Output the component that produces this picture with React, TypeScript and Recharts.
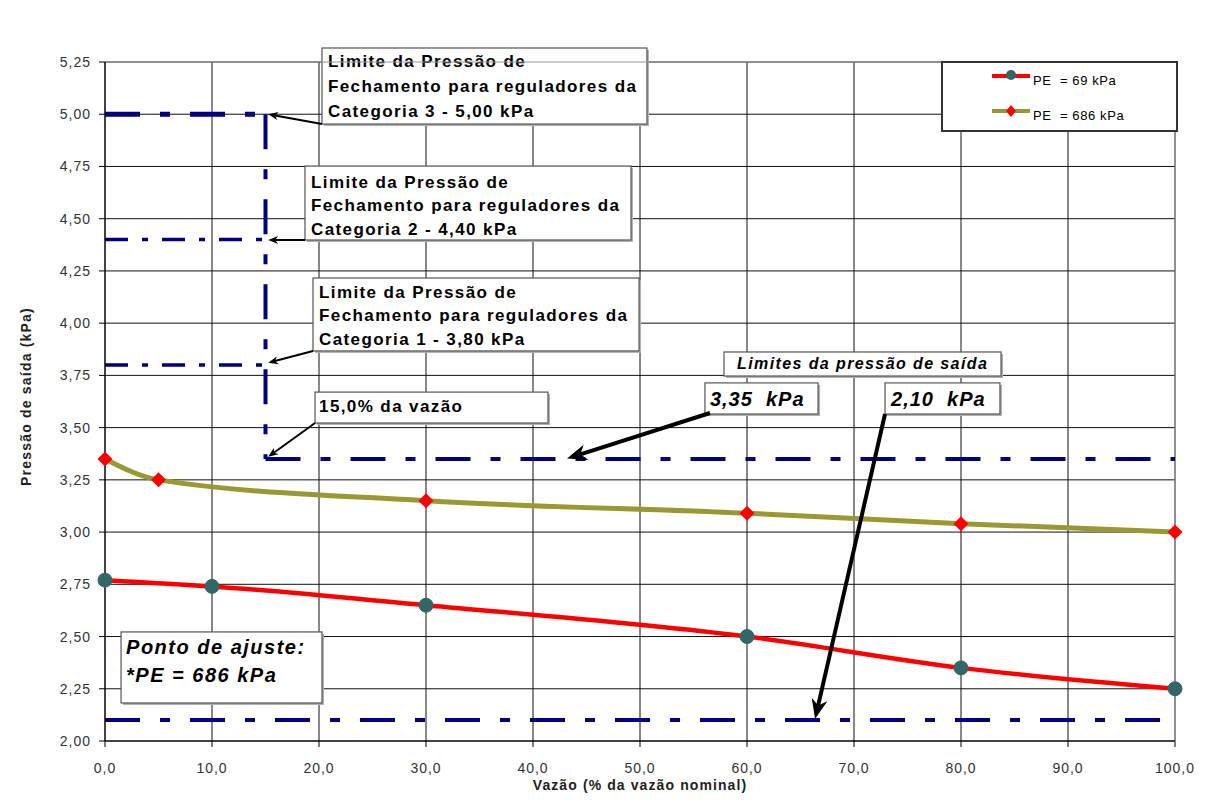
import React from 'react';
import {
  LineChart,
  Line,
  XAxis,
  YAxis,
  CartesianGrid,
  ReferenceLine,
  ReferenceArea,
  Legend,
} from 'recharts';

// eixos
const X_TICKS = [0, 10, 20, 30, 40, 50, 60, 70, 80, 90, 100];
const Y_TICKS = [2, 2.25, 2.5, 2.75, 3, 3.25, 3.5, 3.75, 4, 4.25, 4.5, 4.75, 5, 5.25];

// séries
const VAZAO_69 = [0, 10, 30, 60, 80, 100];
const PRESSAO_69 = [2.77, 2.74, 2.65, 2.5, 2.35, 2.25];
const VAZAO_686 = [0, 5, 30, 60, 80, 100];
const PRESSAO_686 = [3.35, 3.25, 3.15, 3.09, 3.04, 3.0];

// limites
const LIMITES_FECHAMENTO = [5.0, 4.4, 3.8]; // categorias 3, 2, 1
const VAZAO_MINIMA = 15;
const LIMITE_SUPERIOR = 3.35;
const LIMITE_INFERIOR = 2.1;

const FONT = '"Liberation Sans", Arial, sans-serif';
const NAVY = '#000080';

const data69 = VAZAO_69.map((x, i) => ({ x, y: PRESSAO_69[i] }));
const data686 = VAZAO_686.map((x, i) => ({ x, y: PRESSAO_686[i] }));

const fmt = (d: number) => (v: number) => v.toFixed(d).replace('.', ',');

// caixas de texto (coordenadas do gráfico)
const CAIXAS = [
  {
    x1: 20.28, x2: 50.65, y1: 4.953, y2: 5.317,
    lines: ['Limite da Pressão de', 'Fechamento para reguladores da', 'Categoria 3 - 5,00 kPa'],
    size: 17, italic: false, pad: 6, top: 13, lh: 25, spacing: 1.4,
  },
  {
    x1: 18.69, x2: 49.16, y1: 4.398, y2: 4.752,
    lines: ['Limite da Pressão de', 'Fechamento para reguladores da', 'Categoria 2 - 4,40 kPa'],
    size: 17, italic: false, pad: 6, top: 16, lh: 23.5, spacing: 1.4,
  },
  {
    x1: 19.44, x2: 49.91, y1: 3.867, y2: 4.216,
    lines: ['Limite da Pressão de', 'Fechamento para reguladores da', 'Categoria 1 - 3,80 kPa'],
    size: 17, italic: false, pad: 6, top: 14, lh: 23.5, spacing: 1.4,
  },
  {
    x1: 19.63, x2: 41.4, y1: 3.522, y2: 3.67,
    lines: ['15,0% da vazão'],
    size: 17, italic: false, pad: 4, top: 14, lh: 23, spacing: 1.4,
  },
  {
    x1: 57.85, x2: 83.74, y1: 3.747, y2: 3.862,
    lines: ['Limites da pressão de saída'],
    size: 16, italic: true, pad: 13, top: 12, lh: 20, spacing: 1.4,
  },
  {
    x1: 56.07, x2: 66.64, y1: 3.565, y2: 3.714,
    lines: ['3,35  kPa'],
    size: 20, italic: true, pad: 5, top: 16, lh: 24, spacing: 1,
  },
  {
    x1: 72.9, x2: 83.64, y1: 3.565, y2: 3.714,
    lines: ['2,10  kPa'],
    size: 20, italic: true, pad: 6, top: 16, lh: 24, spacing: 1,
  },
  {
    x1: 1.5, x2: 20.28, y1: 2.182, y2: 2.522,
    lines: ['Ponto de ajuste:', '*PE = 686 kPa'],
    size: 20, italic: true, pad: 5, top: 15, lh: 28, spacing: 1.5,
  },
];

// setas (de -> para)
const SETAS = [
  { from: { x: 20.28, y: 4.953 }, to: { x: 15.25, y: 5.0 }, w: 2, head: 10 },
  { from: { x: 18.69, y: 4.398 }, to: { x: 15.25, y: 4.398 }, w: 2, head: 10 },
  { from: { x: 19.44, y: 3.867 }, to: { x: 15.25, y: 3.81 }, w: 2, head: 10 },
  { from: { x: 19.63, y: 3.522 }, to: { x: 15.25, y: 3.36 }, w: 2, head: 10 },
  { from: { x: 56.54, y: 3.57 }, to: { x: 43.18, y: 3.352 }, w: 4, head: 20 },
  { from: { x: 72.9, y: 3.565 }, to: { x: 66.36, y: 2.105 }, w: 4, head: 20 },
];

const boxShape = (c: (typeof CAIXAS)[number]) => (p: any) => {
  const { x, y, width, height } = p;
  return (
    <g>
      <rect x={x + 2} y={y + 2} width={width} height={height} fill="#b0b0b0" />
      <rect x={x} y={y} width={width} height={height} fill="#fff" stroke="#555" strokeWidth={1.2} />
      {c.lines.map((t, i) => (
        <text
          key={i}
          x={x + c.pad}
          y={y + c.top + i * c.lh}
          dominantBaseline="central"
          fontFamily={FONT}
          fontSize={c.size}
          fontWeight="bold"
          fontStyle={c.italic ? 'italic' : 'normal'}
          letterSpacing={c.spacing}
          fill="#000"
          style={{ whiteSpace: 'pre' }}
        >
          {t}
        </text>
      ))}
    </g>
  );
};

const arrowShape = (w: number, head: number) => (p: any) => {
  const { x1, y1, x2, y2 } = p;
  const a = Math.atan2(y2 - y1, x2 - x1);
  const hw = head * 0.4;
  const bx = x2 - head * Math.cos(a);
  const by = y2 - head * Math.sin(a);
  const nx = -Math.sin(a) * hw;
  const ny = Math.cos(a) * hw;
  const ix = x2 - head * 0.7 * Math.cos(a);
  const iy = y2 - head * 0.7 * Math.sin(a);
  return (
    <g>
      <line x1={x1} y1={y1} x2={ix} y2={iy} stroke="#000" strokeWidth={w} />
      <polygon
        points={`${x2},${y2} ${bx + nx},${by + ny} ${ix},${iy} ${bx - nx},${by - ny}`}
        fill="#000"
      />
    </g>
  );
};

const Diamond = (p: any) => {
  const { cx, cy } = p;
  if (cx == null || cy == null) return <g key={p.index} />;
  const r = 7.5;
  return (
    <path
      key={p.index}
      d={`M${cx},${cy - r} L${cx + r},${cy} L${cx},${cy + r} L${cx - r},${cy} Z`}
      fill="#FF0000"
    />
  );
};

const LegendBox = () => (
  <svg width={237} height={71} style={{ display: 'block' }}>
    <rect x={1} y={1} width={235} height={69} fill="#fff" stroke="#333" strokeWidth={2} />
    <line x1={51} y1={15} x2={89} y2={15} stroke="#FF0000" strokeWidth={4} />
    <circle cx={70} cy={14} r={5} fill="#336666" />
    <text x={92} y={23.5} fontFamily={FONT} fontSize={13} letterSpacing={0.6} fill="#000" style={{ whiteSpace: 'pre' }}>
      PE  = 69 kPa
    </text>
    <line x1={51} y1={50} x2={89} y2={50} stroke="#999933" strokeWidth={4} />
    <path d="M70,44 L75,50 L70,56 L65,50 Z" fill="#FF0000" />
    <text x={92} y={58.5} fontFamily={FONT} fontSize={13} letterSpacing={0.6} fill="#000" style={{ whiteSpace: 'pre' }}>
      PE  = 686 kPa
    </text>
  </svg>
);

const XLabel = (p: any) => {
  const vb = p.viewBox;
  return (
    <text
      x={vb.x + vb.width / 2}
      y={vb.y + 49}
      textAnchor="middle"
      fontFamily={FONT}
      fontSize={14}
      fontWeight="bold"
      letterSpacing={1.1}
      fill="#222"
    >
      Vazão (% da vazão nominal)
    </text>
  );
};

const YLabel = (p: any) => {
  const vb = p.viewBox;
  const cx = 18;
  const cy = vb.y + vb.height / 2 - 5;
  return (
    <text
      x={cx}
      y={cy}
      textAnchor="middle"
      dominantBaseline="central"
      transform={`rotate(-90, ${cx}, ${cy})`}
      fontFamily={FONT}
      fontSize={14}
      fontWeight="bold"
      letterSpacing={1.2}
      fill="#222"
    >
      Pressão de saída (kPa)
    </text>
  );
};

const TICK = { fontFamily: FONT, fontSize: 14, fill: '#333', letterSpacing: 1 };

export default function App() {
  const dash1 = '35 20 10 20';
  const dash2 = '23 14 6 14';
  return (
    <div style={{ width: 1199, height: 788 }}>
      <LineChart width={1199} height={788} margin={{ top: 54, right: 32, bottom: 0, left: 0 }}>
        <CartesianGrid stroke="#111" strokeWidth={1} />
        <XAxis
          type="number"
          dataKey="x"
          domain={[0, 100]}
          ticks={X_TICKS}
          tickFormatter={fmt(1)}
          height={55}
          tickSize={6}
          tickMargin={16}
          stroke="#000"
          tick={TICK}
          label={XLabel}
        />
        <YAxis
          type="number"
          domain={[2, 5.25]}
          ticks={Y_TICKS}
          tickFormatter={fmt(2)}
          width={97}
          tickSize={6}
          tickMargin={8}
          stroke="#000"
          tick={TICK}
          label={YLabel}
          allowDataOverflow
        />
        <ReferenceLine y={5.25} stroke="#999" strokeWidth={1} />
        <ReferenceLine x={100} stroke="#999" strokeWidth={1} />

        {LIMITES_FECHAMENTO.map((v, i) => (
          <ReferenceLine
            key={`lf${i}`}
            segment={[{ x: 0, y: v }, { x: VAZAO_MINIMA, y: v }]}
            stroke={NAVY}
            strokeWidth={i === 0 ? 5 : 3.5}
            strokeDasharray={i === 0 ? dash1 : dash2}
            ifOverflow="visible"
          />
        ))}
        <ReferenceLine
          segment={[{ x: VAZAO_MINIMA, y: LIMITES_FECHAMENTO[0] }, { x: VAZAO_MINIMA, y: LIMITE_SUPERIOR }]}
          stroke={NAVY}
          strokeWidth={4}
          strokeDasharray={dash1}
          ifOverflow="visible"
        />
        <ReferenceLine
          segment={[{ x: VAZAO_MINIMA, y: LIMITE_SUPERIOR }, { x: 100, y: LIMITE_SUPERIOR }]}
          stroke={NAVY}
          strokeWidth={4}
          strokeDasharray={dash1}
          ifOverflow="visible"
        />
        <ReferenceLine
          segment={[{ x: 0, y: LIMITE_INFERIOR }, { x: 100, y: LIMITE_INFERIOR }]}
          stroke={NAVY}
          strokeWidth={4}
          strokeDasharray={dash1}
          ifOverflow="visible"
        />

        <Line
          data={data69}
          dataKey="y"
          name="PE = 69 kPa"
          type="monotone"
          stroke="#FF0000"
          strokeWidth={4.5}
          dot={{ r: 7, fill: '#336666', stroke: '#336666', strokeWidth: 1 }}
          activeDot={false}
          isAnimationActive={false}
        />
        <Line
          data={data686}
          dataKey="y"
          name="PE = 686 kPa"
          type="monotone"
          stroke="#999933"
          strokeWidth={5}
          dot={Diamond}
          activeDot={false}
          isAnimationActive={false}
        />

        {CAIXAS.map((c, i) => (
          <ReferenceArea
            key={`cx${i}`}
            x1={c.x1}
            x2={c.x2}
            y1={c.y1}
            y2={c.y2}
            ifOverflow="visible"
            shape={boxShape(c)}
          />
        ))}
        {SETAS.map((s, i) => (
          <ReferenceLine
            key={`st${i}`}
            segment={[s.from, s.to]}
            ifOverflow="visible"
            shape={arrowShape(s.w, s.head)}
          />
        ))}

        <Legend
          layout="vertical"
          align="center"
          verticalAlign="middle"
          content={LegendBox}
          wrapperStyle={{ position: 'absolute', left: 933, top: 53, width: 237, height: 71 }}
        />
      </LineChart>
    </div>
  );
}
